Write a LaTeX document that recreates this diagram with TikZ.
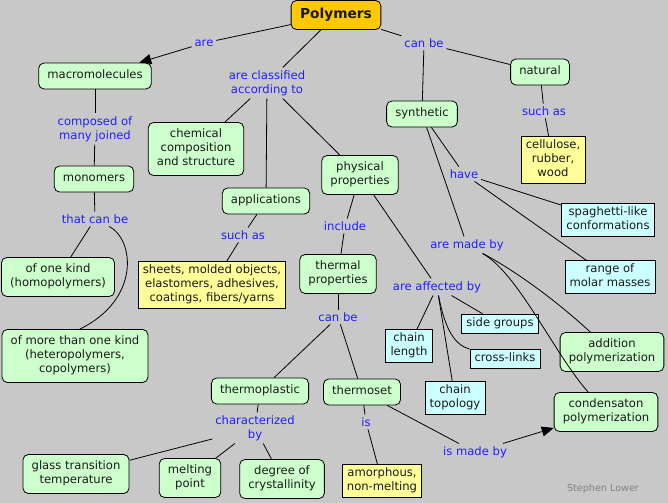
\documentclass[tikz,border=0pt]{standalone}
\usepackage{fontspec}
\setmainfont{DejaVu Sans}
\usetikzlibrary{arrows.meta}
\definecolor{bggray}{RGB}{200,200,200}
\definecolor{boxgreen}{RGB}{204,255,204}
\definecolor{boxyellow}{RGB}{255,255,153}
\definecolor{boxcyan}{RGB}{204,255,255}
\definecolor{topgold}{RGB}{255,200,0}
\definecolor{linkblue}{RGB}{30,30,250}
\definecolor{signgray}{RGB}{130,130,130}
\begin{document}
\begin{tikzpicture}[x=0.75pt,y=-0.75pt,
    txt/.style={font=\fontsize{8.7}{10.5}\selectfont,align=center,text=black!90},
    cbox/.style={txt,draw,line width=0.6pt,rounded corners=4pt,fill=boxgreen,
      inner xsep=6.5pt,inner ysep=4.5pt,
      execute at begin node=\strut,execute at end node=\strut},
    ybox/.style={cbox,sharp corners,fill=boxyellow,inner xsep=3.5pt,inner ysep=2.2pt},
    bbox/.style={cbox,sharp corners,fill=boxcyan,inner xsep=3.5pt,inner ysep=2pt},
    top/.style={cbox,fill=topgold,font=\bfseries\fontsize{10.3}{12.4}\selectfont,
      inner xsep=6.75pt,inner ysep=4.7pt},
    lbl/.style={txt,text=linkblue,inner sep=2pt},
    link/.style={line width=0.6pt},
    arr/.style={link,-{Triangle[length=9pt,width=7.5pt]}}]
  \path[use as bounding box,fill=bggray] (0,0) rectangle (668,503);
  \path
    (336,15) node[top] (poly) {Polymers}
    (204,43) node[lbl] (lare) {are}
    (267,83) node[lbl] (lclass) {are classified\\according to}
    (424,43) node[lbl] (lcanbe) {can be}
    (95,76) node[cbox] (macro) {macromolecules}
    (196,149) node[cbox] (chem) {chemical\\composition\\and structure}
    (266,201) node[cbox] (appl) {applications}
    (360,175) node[cbox] (phys) {physical\\properties}
    (422,114) node[cbox] (synth) {synthetic}
    (540,72) node[cbox] (natur) {natural}
    (544,111) node[lbl] (lsuchn) {such as}
    (553,160) node[ybox] (cellu) {cellulose,\\rubber,\\wood}
    (464,174) node[lbl] (lhave) {have}
    (608,220) node[bbox] (spag) {spaghetti-like\\conformations}
    (610,277) node[bbox] (range) {range of\\molar masses}
    (95,129) node[lbl] (lcomp) {composed of\\many joined}
    (94,179) node[cbox] (mono) {monomers}
    (95,219) node[lbl] (ltcb) {that can be}
    (58,277) node[cbox] (onekind) {of one kind\\(homopolymers)}
    (75,356) node[cbox] (morekind) {of more than one kind\\(heteropolymers,\\copolymers)}
    (243,235) node[lbl] (lsucha) {such as}
    (212,285) node[ybox] (sheets) {sheets, molded objects,\\elastomers, adhesives,\\coatings, fibers/yarns}
    (345,226) node[lbl] (lincl) {include}
    (338,274) node[cbox] (therm) {thermal\\properties}
    (467,245) node[lbl] (lmade) {are made by}
    (437,287) node[lbl] (laff) {are affected by}
    (338,317) node[lbl] (lcanbet) {can be}
    (260,391) node[cbox] (tplast) {thermoplastic}
    (362,392) node[cbox] (tset) {thermoset}
    (255,428) node[lbl] (lchar) {characterized\\by}
    (366,422) node[lbl] (lis) {is}
    (475,452) node[lbl] (lmadeby) {is made by}
    (76,474) node[cbox] (glass) {glass transition\\temperature}
    (190,478) node[cbox] (melt) {melting\\point}
    (282,479) node[cbox] (cryst) {degree of\\crystallinity}
    (382,481) node[ybox] (amorph) {amorphous,\\non-melting}
    (409,346) node[bbox] (clen) {chain\\length}
    (455,398) node[bbox] (ctop) {chain\\topology}
    (500,324) node[bbox] (side) {side groups}
    (505,359) node[bbox] (cross) {cross-links}
    (612,352) node[cbox] (addpol) {addition\\polymerization}
    (606,412) node[cbox] (condpol) {condensaton\\polymerization}
    (603,489) node[font=\fontsize{7.2}{9}\selectfont,text=signgray] (sign) {Stephen Lower};
  \begin{scope}[link]
    \draw (poly) to (lare);
    \draw[arr] (lare) to (macro);
    \draw (poly) to (lclass);
    \draw (lclass) to (chem);
    \draw (lclass) to (appl);
    \draw (lclass) to (phys);
    \draw (poly) to (lcanbe);
    \draw (lcanbe) to (synth);
    \draw (lcanbe) to (natur);
    \draw (natur) to (lsuchn);
    \draw (lsuchn) to (cellu);
    \draw (macro) to (lcomp);
    \draw (lcomp) to (mono);
    \draw (mono) to (ltcb);
    \draw (ltcb) to (onekind);
    \draw (ltcb) .. controls (135,240) and (140,300) .. (morekind.80);
    \draw (appl) to (lsucha);
    \draw (lsucha) to (sheets);
    \draw (phys) to (lincl);
    \draw (lincl) to (therm);
    \draw (phys) to (laff);
    \draw (therm) to (lcanbet);
    \draw (lcanbet) to (tplast);
    \draw (lcanbet) to (tset);
    \draw (tplast) to (lchar);
    \draw (lchar) to (glass);
    \draw (lchar) to (melt);
    \draw (lchar) to (cryst);
    \draw (tset) to (lis);
    \draw (lis) to (amorph);
    \draw (tset) to (lmadeby);
    \draw[arr] (lmadeby) to (condpol);
    \draw (synth) to (lhave);
    \draw (lhave) to (spag);
    \draw (lhave) to (range);
    \draw (synth) to (lmade);
    \draw (lmade) .. controls (510,268) and (550,295) .. (addpol);
    \draw (lmade) .. controls (518,273) and (555,355) .. (condpol);
    \draw (laff) to (clen);
    \draw (laff) to (ctop);
    \draw (laff) to (side);
    \draw (laff) .. controls (445,330) and (455,345) .. (cross);
  \end{scope}
\end{tikzpicture}
\end{document}
